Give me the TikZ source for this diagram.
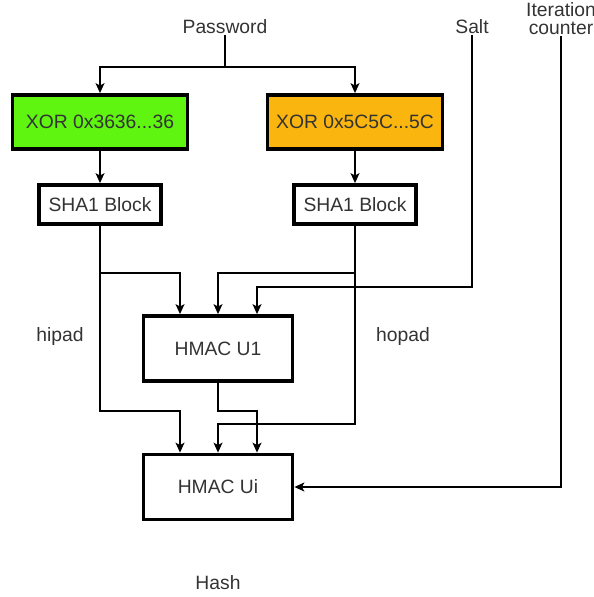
\documentclass[tikz,border=0pt]{standalone}
\usepackage{fontspec}
\setmainfont{Liberation Sans}
\usetikzlibrary{arrows.meta}
\definecolor{xgreen}{RGB}{96,245,16}
\definecolor{xorange}{RGB}{250,181,14}
\definecolor{txt}{RGB}{51,51,51}
\begin{document}
\begin{tikzpicture}[x=1pt,y=-1pt,
  every node/.style={font=\fontsize{19.3}{21}\selectfont, text=txt},
  box/.style={draw=black, line width=3.8pt, minimum width=#1, inner sep=0pt},
  conn/.style={line width=1.3pt, draw=black},
  arr/.style={conn, -{Stealth[length=10pt,width=9pt,inset=2.5pt]}},
  lab/.style={inner sep=1pt}
]
\useasboundingbox (0,0) rectangle (594,597);
% labels
\node[lab] (pw) at (225,27) {Password};
\node[lab] (salt) at (472,27) {Salt};
\node[lab, align=center] (iter) at (561,19) {Iteration\\[-3pt]counter};
\node[lab] (hipad) at (60,337) {hipad};
\node[lab] (hopad) at (403,337) {hopad};
\node[lab] (hash) at (218,583) {Hash};
% boxes
\node[box=175pt, minimum height=54pt, fill=xgreen] (green) at (100,122) {XOR 0x3636...36};
\node[box=175pt, minimum height=54pt, fill=xorange] (orange) at (355,122) {XOR 0x5C5C...5C};
\node[box=122pt, minimum height=39pt, fill=white] (shaL) at (100,204.5) {SHA1 Block};
\node[box=122pt, minimum height=39pt, fill=white] (shaR) at (355,204.5) {SHA1 Block};
\node[box=149pt, minimum height=65pt, fill=white] (u1) at (218,348.5) {HMAC U1};
\node[box=149pt, minimum height=65pt, fill=white] (ui) at (218,487) {HMAC Ui};
% junctions
\coordinate (pwj) at (225,67);
\coordinate (jl1) at (100,273);
\coordinate (jl2) at (100,411);
\coordinate (jr1) at (355,273);
\coordinate (jr2) at (355,424);
\coordinate (js) at (472,287);
\coordinate (ju) at (218,411);
\coordinate (jc) at (561,487);
% connectors
\draw[conn] (pw.south) -- (pwj);
\draw[arr] (pwj) -| (green.north);
\draw[arr] (pwj) -| (orange.north);
\draw[arr] (green) -- (shaL);
\draw[arr] (orange) -- (shaR);
\draw[arr] (shaL.south) -- (jl2) -| ([xshift=-38pt]ui.north);
\draw[arr] (jl1) -| ([xshift=-38pt]u1.north);
\draw[arr] (shaR.south) -- (jr2) -| (ui.north);
\draw[arr] (jr1) -| (u1.north);
\draw[arr] (salt.south) -- (js) -| ([xshift=39pt]u1.north);
\draw[arr] (u1.south) -- (ju) -| ([xshift=39pt]ui.north);
\draw[arr] (iter.south -| jc) -- (jc) -- (ui.east);
\end{tikzpicture}
\end{document}
